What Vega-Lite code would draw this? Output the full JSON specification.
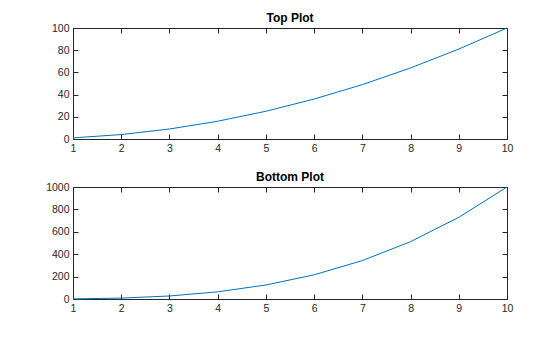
{
  "$schema": "https://vega.github.io/schema/vega-lite/v6.json",
  "padding": {"left": 45, "top": 11, "right": 0, "bottom": 0},
  "background": "white",
  "datasets": {
    "top": [
      {"x": 1, "y": 1}, {"x": 2, "y": 4}, {"x": 3, "y": 9}, {"x": 4, "y": 16}, {"x": 5, "y": 25},
      {"x": 6, "y": 36}, {"x": 7, "y": 49}, {"x": 8, "y": 64}, {"x": 9, "y": 81}, {"x": 10, "y": 100}
    ],
    "bottom": [
      {"x": 1, "y": 1}, {"x": 2, "y": 8}, {"x": 3, "y": 27}, {"x": 4, "y": 64}, {"x": 5, "y": 125},
      {"x": 6, "y": 216}, {"x": 7, "y": 343}, {"x": 8, "y": 512}, {"x": 9, "y": 729}, {"x": 10, "y": 1000}
    ]
  },
  "config": {
    "font": "Liberation Sans",
    "view": {"stroke": "#262626", "strokeWidth": 1},
    "axis": {
      "grid": false,
      "domainColor": "#262626",
      "tickColor": "#262626",
      "labelColor": "#262626",
      "labelFont": "Liberation Sans",
      "labelFontSize": 10.5,
      "tickSize": -5,
      "labelPadding": 9,
      "format": "d",
      "title": null
    },
    "title": {"font": "Liberation Sans", "fontSize": 12, "fontWeight": "bold", "color": "#000000", "offset": -2, "anchor": "middle"}
  },
  "bounds": "flush",
  "spacing": 48,
  "vconcat": [
    {
      "width": 434,
      "height": 111,
      "title": "Top Plot",
      "data": {"name": "top"},
      "layer": [
        {
          "mark": {"type": "line", "color": "#0072BD", "strokeWidth": 1},
          "encoding": {
            "x": {"field": "x", "type": "quantitative", "scale": {"domain": [1, 10], "nice": false, "zero": false},
                  "axis": {"values": [1,2,3,4,5,6,7,8,9,10], "orient": "bottom", "labelFlush": false}},
            "y": {"field": "y", "type": "quantitative", "scale": {"domain": [0, 100], "nice": false},
                  "axis": {"values": [0,20,40,60,80,100], "orient": "left"}}
          }
        },
        {
          "mark": {"type": "line", "opacity": 0},
          "encoding": {
            "x": {"field": "x", "type": "quantitative", "scale": {"domain": [1, 10], "nice": false, "zero": false},
                  "axis": {"values": [1,2,3,4,5,6,7,8,9,10], "orient": "top", "labels": false}},
            "y": {"field": "y", "type": "quantitative", "scale": {"domain": [0, 100], "nice": false},
                  "axis": {"values": [0,20,40,60,80,100], "orient": "right", "labels": false}}
          }
        }
      ],
      "resolve": {"axis": {"x": "independent", "y": "independent"}}
    },
    {
      "width": 434,
      "height": 112,
      "title": "Bottom Plot",
      "data": {"name": "bottom"},
      "layer": [
        {
          "mark": {"type": "line", "color": "#0072BD", "strokeWidth": 1},
          "encoding": {
            "x": {"field": "x", "type": "quantitative", "scale": {"domain": [1, 10], "nice": false, "zero": false},
                  "axis": {"values": [1,2,3,4,5,6,7,8,9,10], "orient": "bottom", "labelFlush": false}},
            "y": {"field": "y", "type": "quantitative", "scale": {"domain": [0, 1000], "nice": false},
                  "axis": {"values": [0,200,400,600,800,1000], "orient": "left"}}
          }
        },
        {
          "mark": {"type": "line", "opacity": 0},
          "encoding": {
            "x": {"field": "x", "type": "quantitative", "scale": {"domain": [1, 10], "nice": false, "zero": false},
                  "axis": {"values": [1,2,3,4,5,6,7,8,9,10], "orient": "top", "labels": false}},
            "y": {"field": "y", "type": "quantitative", "scale": {"domain": [0, 1000], "nice": false},
                  "axis": {"values": [0,200,400,600,800,1000], "orient": "right", "labels": false}}
          }
        }
      ],
      "resolve": {"axis": {"x": "independent", "y": "independent"}}
    }
  ]
}
